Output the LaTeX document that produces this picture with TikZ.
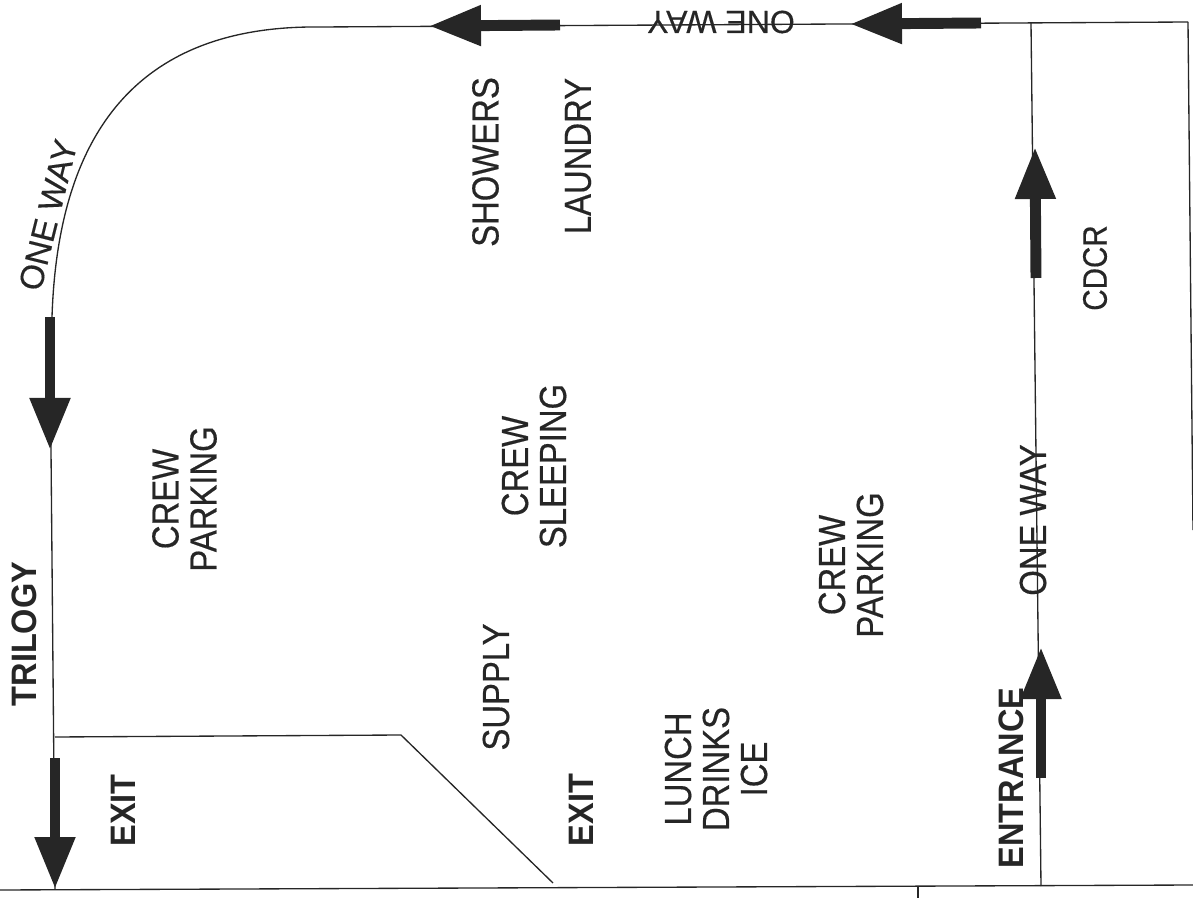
\documentclass[tikz,border=0pt]{standalone}
\usepackage{fontspec}
\usetikzlibrary{arrows.meta}
\setmainfont{Liberation Sans}
\newfontfamily\tallfont[FakeStretch=0.87,FakeBold=0.4]{Liberation Sans}
\newfontfamily\tallboldfont[FakeStretch=0.92]{Liberation Sans Bold}
\newfontfamily\flatfont[FakeBold=0.3]{Liberation Sans}
\definecolor{ink}{HTML}{262626}
\tikzset{
  wall/.style={draw=ink,line width=1pt},
  blockarrow/.style={draw=ink,line width=8.2pt,-{Triangle[length=39pt,width=28.5pt,fill=ink]}},
  tall/.style={inner sep=0pt,rotate=90,align=center,text=ink,font=\fontsize{28.3}{28.5}\selectfont\tallfont},
  tallbold/.style={inner sep=0pt,rotate=90,align=center,text=ink,font=\fontsize{26.5}{28.5}\selectfont\tallboldfont},
  flat/.style={inner sep=0pt,text=ink,font=\fontsize{24}{26}\selectfont\flatfont}
}
\begin{document}
\begin{tikzpicture}[x=0.75pt,y=-0.75pt]
\useasboundingbox (0,0) rectangle (1193,898);
% outline anchors
\coordinate (curveA) at (320,27);
\coordinate (curveB) at (52,317);
\coordinate (leftMid) at (51,450);
\coordinate (leftEnd) at (55,889);
\coordinate (corner) at (1188,22);
\coordinate (rightEnd) at (1193,530);
\coordinate (innerTop) at (1031,23);
\coordinate (innerBot) at (1041,886);
\coordinate (wallA) at (55,737);
\coordinate (wallB) at (401,735);
\coordinate (wallC) at (553,883);
\coordinate (baseL) at (0,890);
\coordinate (baseR) at (1193,885);
\coordinate (tickT) at (918,886);
\coordinate (tickB) at (918,898);
% lines
\draw[wall] (corner) -- (curveA) .. controls (140,25) and (58,130) .. (curveB) -- (leftMid) -- (leftEnd);
\draw[wall] (corner) -- (rightEnd);
\draw[wall] (innerTop) -- (innerBot);
\draw[wall] (wallA) -- (wallB) -- (wallC);
\draw[wall] (baseL) -- (baseR);
\draw[wall] (tickT) -- (tickB);
% block arrows
\coordinate (a1t) at (981,23);  \coordinate (a1h) at (850,24);
\coordinate (a2t) at (560,25);  \coordinate (a2h) at (429,26);
\coordinate (a3t) at (50,317);  \coordinate (a3h) at (50,450);
\coordinate (a4t) at (55,758);  \coordinate (a4h) at (55,889);
\coordinate (a5t) at (1036,278);\coordinate (a5h) at (1035,147);
\coordinate (a6t) at (1041,778);\coordinate (a6h) at (1041,647);
\foreach \t/\h in {a1t/a1h,a2t/a2h,a3t/a3h,a4t/a4h,a5t/a5h,a6t/a6h}
  \draw[blockarrow] (\t) -- (\h);
% labels
\node[tall] (showers) at (485.5,162) {SHOWERS};
\node[tall] (laundry) at (578,156) {LAUNDRY};
\node[tall,font=\fontsize{25.5}{28}\selectfont\tallfont] (cdcr) at (1095,268) {CDCR};
\node[tall] (parkL) at (184.5,499) {CREW\\PARKING};
\node[tall] (sleep) at (534,466) {CREW\\SLEEPING};
\node[tall] (supply) at (496,687) {SUPPLY};
\node[tall] (parkR) at (851,565) {CREW\\PARKING};
\node[tall] (lunch) at (716,769) {LUNCH\\DRINKS\\ICE};
\node[tall] (wayR) at (1033,520) {ONE WAY};
\node[tallbold] (trilogy) at (24,634) {TRILOGY};
\node[tallbold] (exitL) at (123.5,810.5) {EXIT};
\node[tallbold] (exitR) at (581.5,810) {EXIT};
\node[tallbold] (entrance) at (1011,778) {ENTRANCE};
\node[flat,rotate=180] (wayT) at (721,22) {ONE WAY};
\node[flat,rotate=76,font=\fontsize{25}{27}\selectfont\flatfont] (wayL) at (48,215) {ONE WAY};
\end{tikzpicture}
\end{document}
